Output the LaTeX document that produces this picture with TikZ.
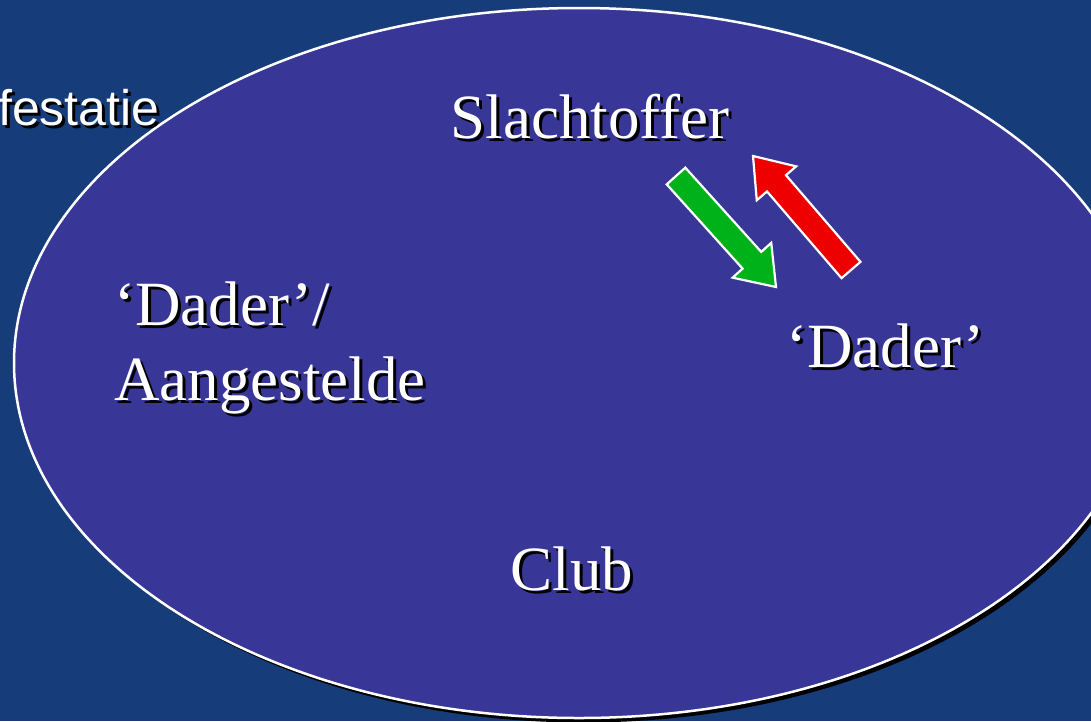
\documentclass[tikz,border=0pt]{standalone}
\usepackage{fontspec}
\setmainfont{Liberation Serif}
\newfontfamily\arialf{Liberation Sans}
\usetikzlibrary{calc}
\definecolor{bgblue}{RGB}{22,60,122}
\definecolor{ellblue}{RGB}{56,54,150}
\definecolor{agreen}{RGB}{0,178,26}
\definecolor{ared}{RGB}{238,0,0}
\tikzset{
  lbl/.style={inner sep=0pt, text=white, font=\fontsize{63}{70}\selectfont},
  shd/.style={inner sep=0pt, text=black, font=\fontsize{63}{70}\selectfont, xshift=3pt, yshift=-3pt},
  sanslbl/.style={inner sep=0pt, text=white, font=\arialf\fontsize{50}{60}\selectfont},
  sansshd/.style={inner sep=0pt, text=black, font=\arialf\fontsize{50}{60}\selectfont, xshift=3pt, yshift=-3pt},
}
% block arrow: #1 tail, #2 tip, #3 fill
\newcommand{\blockarrow}[3]{%
  \coordinate (neck) at ($(#2)!36pt!(#1)$);
  \fill[black, shift={(4pt,-4pt)}]
    ($(#1)!12.5pt!90:(#2)$) -- ($(neck)!12.5pt!-90:(#1)$) -- ($(neck)!26pt!-90:(#1)$) -- (#2)
    -- ($(neck)!26pt!90:(#1)$) -- ($(neck)!12.5pt!90:(#1)$) -- ($(#1)!12.5pt!-90:(#2)$) -- cycle;
  \filldraw[fill=#3, draw=white, line width=2.2pt, line join=miter]
    ($(#1)!12.5pt!90:(#2)$) -- ($(neck)!12.5pt!-90:(#1)$) -- ($(neck)!26pt!-90:(#1)$) -- (#2)
    -- ($(neck)!26pt!90:(#1)$) -- ($(neck)!12.5pt!90:(#1)$) -- ($(#1)!12.5pt!-90:(#2)$) -- cycle;
}
\begin{document}
\begin{tikzpicture}[x=1pt, y=-1pt]
\useasboundingbox (0,0) rectangle (1091,721);
\clip (0,0) rectangle (1091,721);
\fill[bgblue] (0,0) rectangle (1091,721);
% ellipse with shadow
\fill[black] (583.5,367.5) ellipse [x radius=565, y radius=355];
\filldraw[fill=ellblue, draw=white, line width=2.5pt] (579,363) ellipse [x radius=565, y radius=355];
% texts
\node[sansshd, anchor=base west] (fs) at (-2,125) {festatie};
\node[sanslbl, anchor=base west] (f) at (-2,125) {festatie};
\node[shd, anchor=base] (ss) at (590,138) {Slachtoffer};
\node[lbl, anchor=base] (s) at (590,138) {Slachtoffer};
\node[shd, anchor=base west] (d1s) at (114,325) {‘Dader’/};
\node[lbl, anchor=base west] (d1) at (114,325) {‘Dader’/};
\node[shd, anchor=base west] (as) at (114,400) {Aangestelde};
\node[lbl, anchor=base west] (a) at (114,400) {Aangestelde};
\node[shd, anchor=base west] (d2s) at (786,367) {‘Dader’};
\node[lbl, anchor=base west] (d2) at (786,367) {‘Dader’};
\node[shd, anchor=base] (cs) at (572,590) {Club};
\node[lbl, anchor=base] (c) at (572,590) {Club};
% arrows
\coordinate (gtail) at (676,176);
\coordinate (gtip) at (776,287);
\coordinate (rtail) at (851,270);
\coordinate (rtip) at (753,156);
\blockarrow{gtail}{gtip}{agreen}
\blockarrow{rtail}{rtip}{ared}
\end{tikzpicture}
\end{document}
